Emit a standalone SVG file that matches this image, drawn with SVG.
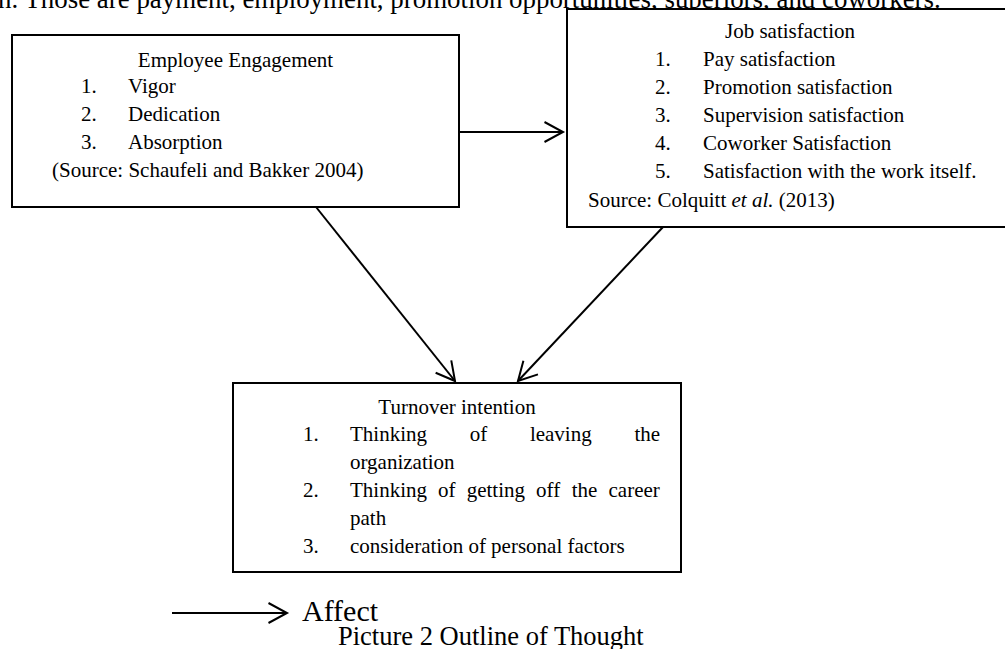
<svg xmlns="http://www.w3.org/2000/svg" width="1005" height="649" viewBox="0 0 1005 649">
<style>
text{font-family:"Liberation Serif","Times New Roman",serif;fill:#000}
.t{font-size:21px}
.c{text-anchor:middle}
.box{fill:#fff;stroke:#000;stroke-width:2}
.ln{stroke:#000;stroke-width:2;fill:none}
</style>
<defs>
<marker id="chev" markerUnits="userSpaceOnUse" viewBox="-22 -12 24 24" refX="0" refY="0" markerWidth="24" markerHeight="24" orient="auto" overflow="visible">
<path d="M-18.5,-10 L0,0 L-18.5,10" fill="none" stroke="#000" stroke-width="2" stroke-linejoin="miter"/>
</marker>
</defs>
<rect width="1005" height="649" fill="#fff"/>
<text x="-2" y="8" style="font-size:26.9px">n. Those are payment, employment, promotion opportunities, superiors, and coworkers.</text>

<g id="connectors">
<line class="ln" x1="459" y1="132" x2="563" y2="132" marker-end="url(#chev)"/>
<line class="ln" x1="316" y1="207" x2="455" y2="381" marker-end="url(#chev)"/>
<line class="ln" x1="663" y1="227" x2="518" y2="381" marker-end="url(#chev)"/>
</g>

<g id="engagement">
<rect class="box" x="12" y="35" width="447" height="172"/>
<text class="t c" x="235.5" y="67">Employee Engagement</text>
<text class="t" x="81" y="93">1.</text><text class="t" x="128" y="93">Vigor</text>
<text class="t" x="81" y="121">2.</text><text class="t" x="128" y="121">Dedication</text>
<text class="t" x="81" y="149">3.</text><text class="t" x="128" y="149">Absorption</text>
<text class="t" x="52" y="177">(Source: Schaufeli and Bakker 2004)</text>
</g>

<g id="job">
<rect class="box" x="567" y="9" width="445" height="218"/>
<text class="t c" x="790" y="38">Job satisfaction</text>
<text class="t" x="655" y="66">1.</text><text class="t" x="703" y="66">Pay satisfaction</text>
<text class="t" x="655" y="94">2.</text><text class="t" x="703" y="94">Promotion satisfaction</text>
<text class="t" x="655" y="122">3.</text><text class="t" x="703" y="122">Supervision satisfaction</text>
<text class="t" x="655" y="150">4.</text><text class="t" x="703" y="150">Coworker Satisfaction</text>
<text class="t" x="655" y="178">5.</text><text class="t" x="703" y="178">Satisfaction with the work itself.</text>
<text class="t" x="588" y="207">Source: Colquitt <tspan font-style="italic">et al.</tspan> (2013)</text>
</g>

<g id="turnover">
<rect class="box" x="233" y="383" width="448" height="189"/>
<text class="t c" x="457" y="414">Turnover intention</text>
<text class="t" x="303" y="441">1.</text>
<text class="t" y="441"><tspan x="350">Thinking</tspan><tspan x="469.7">of</tspan><tspan x="529.9">leaving</tspan><tspan x="634.4">the</tspan></text>
<text class="t" x="350" y="469">organization</text>
<text class="t" x="303" y="497">2.</text>
<text class="t" y="497"><tspan x="350">Thinking</tspan><tspan x="438.1">of</tspan><tspan x="466.7">getting</tspan><tspan x="536.1">off</tspan><tspan x="571.7">the</tspan><tspan x="608.5">career</tspan></text>
<text class="t" x="350" y="525">path</text>
<text class="t" x="303" y="553">3.</text>
<text class="t" x="350" y="553">consideration of personal factors</text>
</g>

<g id="legend">
<line class="ln" x1="172" y1="613" x2="287" y2="613" marker-end="url(#chev)"/>
<text x="302" y="621" style="font-size:30px">Affect</text>
</g>
<text x="338" y="645" style="font-size:26.5px">Picture 2 Outline of Thought</text>
</svg>
